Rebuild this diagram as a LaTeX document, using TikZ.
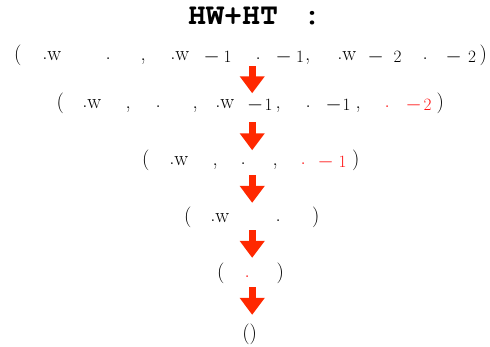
\documentclass[tikz,border=0pt]{standalone}
\usepackage[T1,TU]{fontenc}
\usetikzlibrary{arrows.meta}
\definecolor{arrowred}{RGB}{255,40,0}
\definecolor{textred}{RGB}{255,20,20}
% place content with its left edge at x (pt)
\newcommand\putl[2]{\rlap{\hspace*{#1pt}#2}}
% place content centred at x (pt)
\newcommand\putc[2]{\rlap{\hspace*{#1pt}\makebox[0pt]{#2}}}
\newcommand\ldot{\raisebox{1.5pt}{.}}
\newcommand\dw{\ldot w}
\newcommand\smin{\raisebox{-2pt}{$-$}}
\newcommand\sdig[1]{\raisebox{-2pt}{\fontsize{17.28}{20}\selectfont #1}}
\tikzset{
  rowtext/.style={anchor=base west, inner sep=0pt, font=\huge},
  flowarrow/.style={draw=arrowred, line width=7pt, -{Triangle[width=24pt,length=17pt]}, arrowred},
}
\begin{document}
\begin{tikzpicture}[x=1pt,y=1pt]
\useasboundingbox (0,0) rectangle (490,-347);
\node[anchor=base west, inner sep=0pt,
      font=\fontencoding{T1}\fontfamily{pcr}\fontseries{b}\fontsize{30}{32}\selectfont] (title) at (188,-25)
  {HW+HT\hspace{25pt}:};
\node[rowtext] (r1) at (0,-61) {%
  \putc{17.5}{(}\putl{42.1}{\dw}\putc{108}{\ldot}\putc{143}{,}%
  \putl{170.1}{\dw}\putc{211.5}{\smin}\putc{227.5}{\sdig{1}}%
  \putc{258}{\ldot}\putc{283.5}{\smin}\putc{300}{\sdig{1}}\putc{307.5}{,}%
  \putl{337.1}{\dw}\putc{375.5}{\smin}\putc{397.5}{\sdig{2}}%
  \putc{425}{\ldot}\putc{453.5}{\smin}\putc{472}{\sdig{2}}\putc{483}{)}%
  \hspace*{490pt}};
\node[rowtext] (r2) at (0,-109) {%
  \putc{60}{(}\putl{82.1}{\dw}\putc{128}{,}\putc{158}{\ldot}\putc{195}{,}%
  \putl{215.1}{\dw}\putc{255}{\smin}\putc{268.5}{\sdig{1}}\putc{278}{,}%
  \putc{308}{\ldot}\putc{333.5}{\smin}\putc{346.5}{\sdig{1}}\putc{358}{,}%
  \putc{387}{\color{textred}\ldot}\putc{413.5}{\color{textred}\smin}\putc{427.5}{\color{textred}\sdig{2}}%
  \putc{440}{)}%
  \hspace*{490pt}};
\node[rowtext] (r3) at (0,-166) {%
  \putc{145.5}{(}\putl{169.1}{\dw}\putc{215}{,}\putc{243}{\ldot}\putc{275}{,}%
  \putc{303}{\color{textred}\ldot}\putc{325.5}{\color{textred}\smin}\putc{342.5}{\color{textred}\sdig{1}}%
  \putc{355.5}{)}%
  \hspace*{490pt}};
\node[rowtext] (r4) at (0,-223) {%
  \putc{187.5}{(}\putl{210.1}{\dw}\putc{278}{\ldot}\putc{315.5}{)}%
  \hspace*{490pt}};
\node[rowtext] (r5) at (0,-279) {%
  \putc{220.5}{(}\putc{247}{\color{textred}\ldot}\putc{280}{)}%
  \hspace*{490pt}};
\node[rowtext] (r6) at (0,-340) {%
  \putc{249.5}{()}%
  \hspace*{490pt}};
\draw[flowarrow] ([xshift=7pt]r1.south) -- ([xshift=7pt]r2.north);
\draw[flowarrow, shorten <=7.8pt] ([xshift=7pt]r2.south) -- ([xshift=7pt]r3.north);
\draw[flowarrow, shorten <=3.8pt, shorten >=4.4pt] ([xshift=7pt]r3.south) -- ([xshift=7pt]r4.north);
\draw[flowarrow, shorten <=1.8pt, shorten >=5.4pt] ([xshift=7pt]r4.south) -- ([xshift=7pt]r5.north);
\draw[flowarrow, shorten <=2.8pt, shorten >=9.4pt] ([xshift=7pt]r5.south) -- ([xshift=7pt]r6.north);
\end{tikzpicture}
\end{document}
